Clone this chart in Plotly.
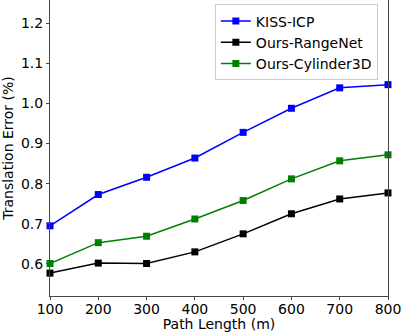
import plotly.graph_objects as go

path_length = [100, 200, 300, 400, 500, 600, 700, 800]
kiss_icp = [0.695, 0.773, 0.816, 0.864, 0.928, 0.988, 1.039, 1.047]
ours_rangenet = [0.577, 0.602, 0.601, 0.630, 0.675, 0.725, 0.762, 0.777]
ours_cylinder3d = [0.601, 0.653, 0.669, 0.712, 0.758, 0.812, 0.857, 0.872]

series = [
    ("KISS-ICP", kiss_icp, "blue"),
    ("Ours-RangeNet", ours_rangenet, "black"),
    ("Ours-Cylinder3D", ours_cylinder3d, "green"),
]

fig = go.Figure()
for name, vals, color in series:
    fig.add_trace(go.Scatter(
        x=path_length,
        y=vals,
        mode="lines+markers",
        name=name,
        line=dict(color=color, width=1.5),
        marker=dict(color=color, size=7, symbol="square"),
        cliponaxis=False,
    ))

frame = dict(
    showline=True,
    mirror=True,
    linecolor="#444",
    linewidth=1,
    showgrid=False,
    zeroline=False,
    tickfont=dict(size=14, color="black"),
)

fig.update_layout(
    width=403,
    height=332,
    margin=dict(l=50, r=15, t=0, b=36),
    plot_bgcolor="white",
    paper_bgcolor="white",
    font=dict(family="DejaVu Sans", color="black"),
    xaxis=dict(
        range=[100, 800],
        tickvals=path_length,
        ticks="",
        # tick marks drawn as minor ticks so the labels sit close to the axis
        minor=dict(ticks="outside", ticklen=3, tickcolor="#444", tick0=100, dtick=100),
        title=dict(text="Path Length (m)", font=dict(size=14), standoff=0),
        **frame,
    ),
    yaxis=dict(
        range=[0.52, 1.258],
        tickvals=[0.6, 0.7, 0.8, 0.9, 1.0, 1.1, 1.2],
        tickformat=".1f",
        ticks="outside",
        ticklen=3,
        tickcolor="#444",
        title=dict(text="Translation Error (%)", font=dict(size=14), standoff=5),
        **frame,
    ),
    legend=dict(
        x=0.97,
        y=0.985,
        xanchor="right",
        yanchor="top",
        bordercolor="#ccc",
        borderwidth=1,
        bgcolor="rgba(255,255,255,0.8)",
        font=dict(size=14),
    ),
)

# page has a default 8px body margin; drop it so the figure sits at the corner
fig.write_html(
    "out.html",
    config={"displayModeBar": False},
    post_script="document.body.style.margin='0';",
)
